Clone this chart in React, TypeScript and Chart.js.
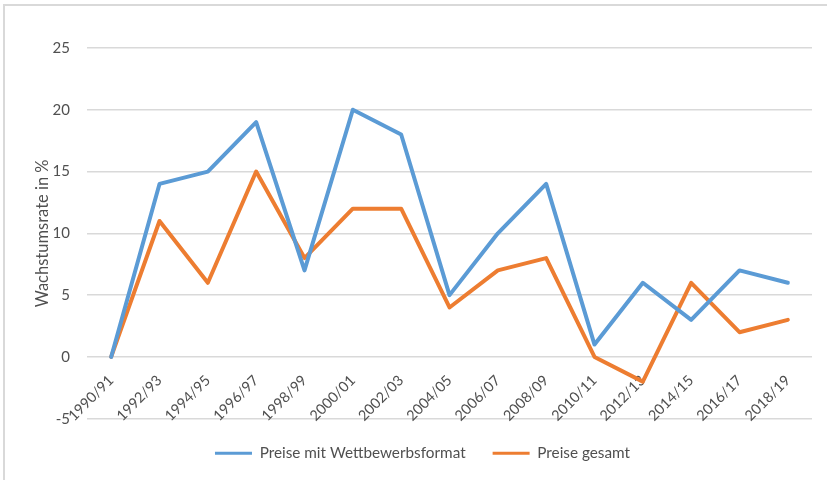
import React, { useEffect, useRef } from "react";
import { Chart, registerables } from "chart.js";

Chart.register(...registerables);

const categories = [
  "1990/91", "1992/93", "1994/95", "1996/97", "1998/99", "2000/01", "2002/03",
  "2004/05", "2006/07", "2008/09", "2010/11", "2012/13", "2014/15", "2016/17", "2018/19",
];
const wettbewerb = [0, 14, 15, 19, 7, 20, 18, 5, 10, 14, 1, 6, 3, 7, 6];
const gesamt = [0, 11, 6, 15, 8, 12, 12, 4, 7, 8, 0, -2, 6, 2, 3];
const seriesNames = ["Preise mit Wettbewerbsformat", "Preise gesamt"];
const yTitle = "Wachstumsrate in %";

const FONT = "Lato, 'Open Sans', sans-serif";
const TEXT = "#505050";

const borderPlugin = {
  id: "frame",
  beforeDraw(chart: any) {
    const { ctx, width, height } = chart;
    ctx.save();
    ctx.strokeStyle = "#d9d9d9";
    ctx.lineWidth = 2;
    ctx.beginPath();
    ctx.moveTo(4, height);
    ctx.lineTo(4, 5);
    ctx.lineTo(width, 5);
    ctx.stroke();
    ctx.restore();
  },
};

export default function App() {
  const ref = useRef<HTMLCanvasElement | null>(null);
  useEffect(() => {
    if (!ref.current) return;
    const chart = new Chart(ref.current, {
      type: "line",
      data: {
        labels: categories,
        datasets: [
          {
            label: seriesNames[0],
            data: wettbewerb,
            borderColor: "#5B9BD5",
            backgroundColor: "#5B9BD5",
            borderWidth: 4,
            pointRadius: 0,
            borderJoinStyle: "round",
            borderCapStyle: "round",
            tension: 0,
          },
          {
            label: seriesNames[1],
            data: gesamt,
            borderColor: "#ED7D31",
            backgroundColor: "#ED7D31",
            borderWidth: 4,
            pointRadius: 0,
            borderJoinStyle: "round",
            borderCapStyle: "round",
            tension: 0,
          },
        ],
      },
      options: {
        animation: false,
        responsive: false,
        maintainAspectRatio: false,
        layout: { padding: { top: 48, right: 15, bottom: 9, left: 33 } },
        scales: {
          x: {
            type: "category",
            position: { y: 0 } as any,
            offset: true,
            grid: { display: false, drawTicks: false },
            border: { display: false },
            ticks: {
              autoSkip: false,
              minRotation: 45,
              maxRotation: 45,
              padding: 15,
              color: TEXT,
              font: { family: FONT, size: 14.5 },
            },
          },
          y: {
            min: -5,
            max: 25,
            grid: { color: "#d9d9d9", lineWidth: 1.5, drawTicks: false },
            border: { display: false },
            ticks: {
              stepSize: 5,
              padding: 17,
              color: TEXT,
              font: { family: FONT, size: 15 },
            },
            title: {
              display: true,
              text: yTitle,
              color: TEXT,
              font: { family: FONT, size: 16.5 },
              padding: { top: 0, bottom: 0 },
            },
            afterFit(scale: any) {
              scale.width = 54;
            },
          },
        },
        plugins: {
          tooltip: { enabled: false },
          legend: {
            position: "bottom",
            labels: {
              boxWidth: 37,
              boxHeight: 3,
              padding: 27,
              color: TEXT,
              font: { family: FONT, size: 15.3 },
              generateLabels(c: any) {
                return Chart.defaults.plugins.legend.labels
                  .generateLabels(c)
                  .map((l: any) => ({ ...l, lineWidth: 0, fillStyle: l.strokeStyle }));
              },
            },
          },
        },
      },
      plugins: [borderPlugin],
    } as any);
    return () => chart.destroy();
  }, []);
  return (
    <div style={{ position: "fixed", left: 0, top: 0, width: 827, height: 480, background: "#fff" }}>
      <canvas ref={ref} width={827} height={480} style={{ display: "block", width: 827, height: 480 }} />
    </div>
  );
}
